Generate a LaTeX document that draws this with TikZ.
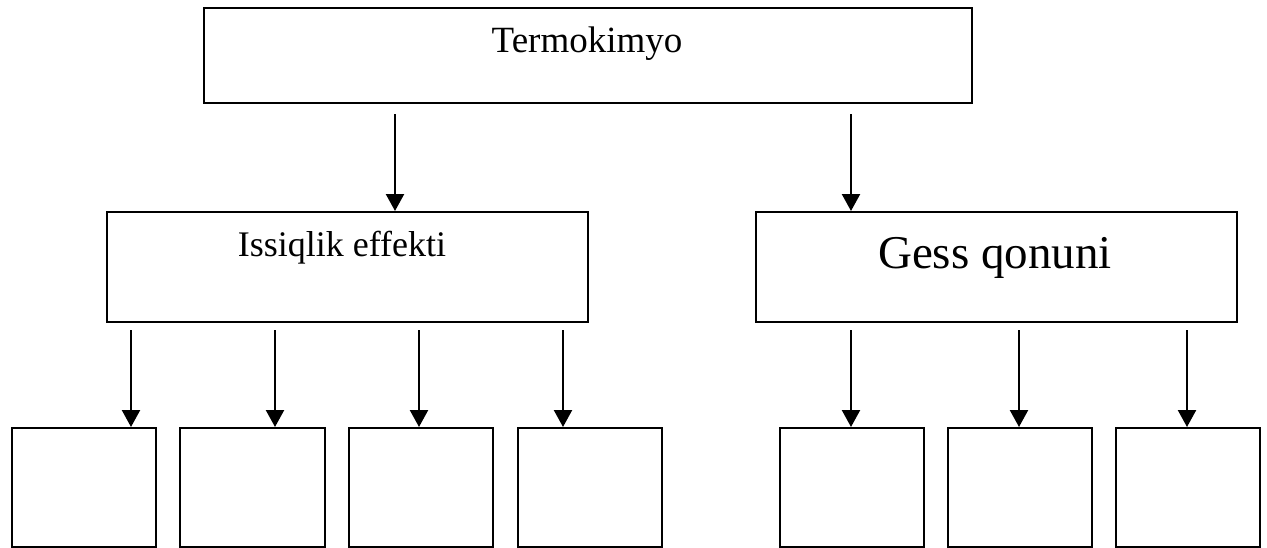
\documentclass[tikz,border=0pt]{standalone}
\usepackage{fontspec}
\setmainfont{Liberation Serif}
\usetikzlibrary{arrows.meta}

\tikzset{
  box/.style={draw=black, line width=2.3pt, rectangle, inner sep=0pt, anchor=north west},
  link/.style={line width=2.3pt, -{Triangle[width=18pt,length=17pt]}},
  title/.style={anchor=base, inner sep=0pt, font=\fontsize{37}{44}\selectfont},
  sub/.style={anchor=base, inner sep=0pt, font=\fontsize{36}{43}\selectfont},
  big/.style={anchor=base, inner sep=0pt, font=\fontsize{47}{56}\selectfont},
}

\begin{document}
\begin{tikzpicture}[x=1pt, y=-1pt]
  \useasboundingbox (0,0) rectangle (1267,547);

  % top level
  \node[box, minimum width=768pt, minimum height=95pt] (top) at (203,7) {};
  \node[title] (toptxt) at (587,52) {Termokimyo};

  % second level
  \node[box, minimum width=481pt, minimum height=110pt] (ie) at (106,211) {};
  \node[sub] (ietxt) at (342,256) {Issiqlik effekti};
  \node[box, minimum width=481pt, minimum height=110pt] (gq) at (755,211) {};
  \node[big] (gqtxt) at (995,268) {Gess qonuni};

  % third level (empty boxes)
  \node[box, minimum width=144pt, minimum height=119pt] (b1) at (11,427) {};
  \node[box, minimum width=145pt, minimum height=119pt] (b2) at (179,427) {};
  \node[box, minimum width=144pt, minimum height=119pt] (b3) at (348,427) {};
  \node[box, minimum width=144pt, minimum height=119pt] (b4) at (517,427) {};
  \node[box, minimum width=144pt, minimum height=119pt] (b5) at (779,427) {};
  \node[box, minimum width=144pt, minimum height=119pt] (b6) at (947,427) {};
  \node[box, minimum width=144pt, minimum height=119pt] (b7) at (1115,427) {};

  % arrow start points
  \coordinate (s1) at (395,114);
  \coordinate (s2) at (851,114);
  \coordinate (c1) at (131,330);
  \coordinate (c2) at (275,330);
  \coordinate (c3) at (419,330);
  \coordinate (c4) at (563,330);
  \coordinate (c5) at (851,330);
  \coordinate (c6) at (1019,330);
  \coordinate (c7) at (1187,330);

  % arrows
  \draw[link] (s1) -- (s1 |- ie.north);
  \draw[link] (s2) -- (s2 |- gq.north);
  \draw[link] (c1) -- (c1 |- b1.north);
  \draw[link] (c2) -- (c2 |- b2.north);
  \draw[link] (c3) -- (c3 |- b3.north);
  \draw[link] (c4) -- (c4 |- b4.north);
  \draw[link] (c5) -- (c5 |- b5.north);
  \draw[link] (c6) -- (c6 |- b6.north);
  \draw[link] (c7) -- (c7 |- b7.north);
\end{tikzpicture}
\end{document}
